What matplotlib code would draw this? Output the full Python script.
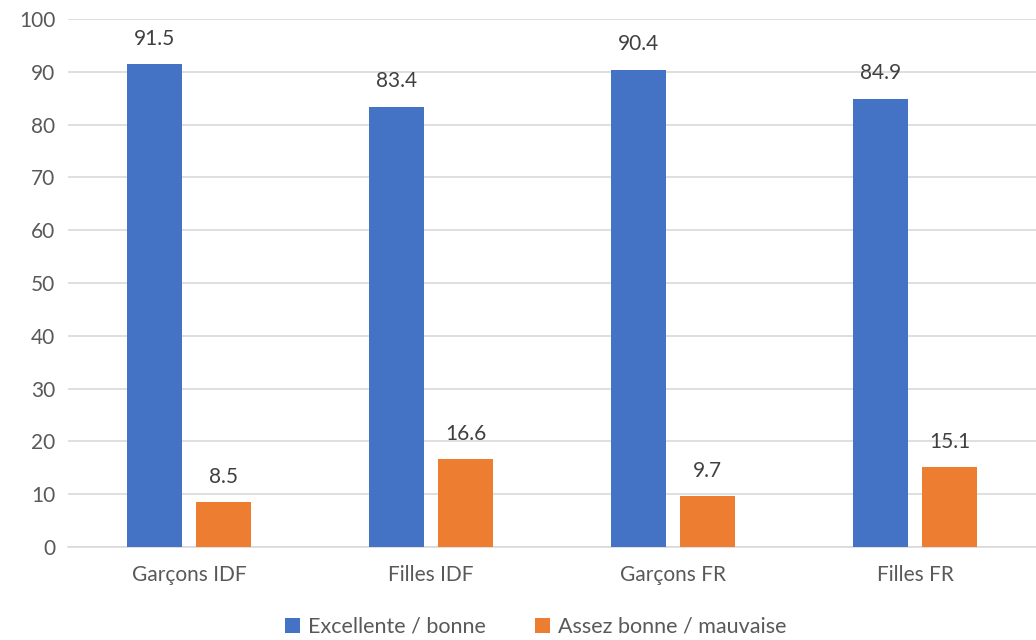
import matplotlib
matplotlib.use("Agg")
import matplotlib.pyplot as plt
import numpy as np

categories = ["Garçons IDF", "Filles IDF", "Garçons FR", "Filles FR"]
excellente = [91.5, 83.4, 90.4, 84.9]
assez = [8.5, 16.6, 9.7, 15.1]
series_names = ["Excellente / bonne", "Assez bonne / mauvaise"]

plt.rcParams["font.family"] = ["Lato", "DejaVu Sans"]
text_col = "#595959"

fig = plt.figure(figsize=(10.36, 6.4), dpi=100)
ax = fig.add_axes([0.0656, 0.1453, 0.9344, 0.825])

x = np.arange(len(categories))
w = 0.227
off = (w + 0.058) / 2
b1 = ax.bar(x - off, excellente, w, color="#4472C4", label=series_names[0], zorder=3)
b2 = ax.bar(x + off, assez, w, color="#ED7D31", label=series_names[1], zorder=3)

for bars, vals in ((b1, excellente), (b2, assez)):
    for rect, v in zip(bars, vals):
        ax.annotate(f"{v:.1f}", (rect.get_x() + rect.get_width() / 2, v),
                    xytext=(0, 11), textcoords="offset points",
                    ha="center", va="bottom", fontsize=15, color="#404040")

ax.set_xlim(-0.5, 3.5)
ax.set_ylim(0, 100)
ax.set_yticks(range(0, 101, 10))
ax.set_xticks(x)
ax.set_xticklabels(categories)
ax.yaxis.grid(True, color="#D9D9D9", lw=1.2, zorder=0)
ax.tick_params(axis="both", length=0, labelsize=15, labelcolor=text_col)
ax.tick_params(axis="x", pad=13)
ax.tick_params(axis="y", pad=9)
for s in ("top", "right", "left"):
    ax.spines[s].set_visible(False)
ax.spines["bottom"].set_color("#D9D9D9")
ax.spines["bottom"].set_linewidth(1.2)

fig.legend(handles=[b1, b2], labels=series_names, loc="lower center",
           bbox_to_anchor=(0.517, -0.025), ncol=2, frameon=False,
           fontsize=15.5, labelcolor=text_col, handlelength=0.7,
           handleheight=0.7, handletextpad=0.35, columnspacing=2.3)

fig.savefig("out.png", dpi=100)
